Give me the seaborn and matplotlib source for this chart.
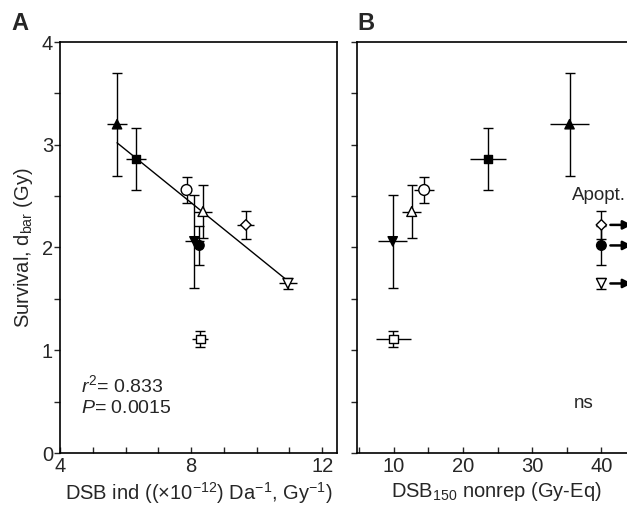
import numpy as np
import pandas as pd
import seaborn as sns
import matplotlib.pyplot as plt
from matplotlib.ticker import MultipleLocator

# one entry per cell line (named after its marker)
cells = ['tri_up_f', 'sq_f', 'circ_o', 'tri_up_o', 'tri_dn_f', 'circ_f', 'diam_o', 'tri_dn_o', 'sq_o']
markers = {'tri_up_f': '^', 'sq_f': 's', 'circ_o': 'o', 'tri_up_o': '^', 'tri_dn_f': 'v',
           'circ_f': 'o', 'diam_o': 'D', 'tri_dn_o': 'v', 'sq_o': 's'}
faces = {'tri_up_f': 'black', 'sq_f': 'black', 'circ_o': 'white', 'tri_up_o': 'white', 'tri_dn_f': 'black',
         'circ_f': 'black', 'diam_o': 'white', 'tri_dn_o': 'white', 'sq_o': 'white'}
msize = {'tri_up_f': 45, 'sq_f': 38, 'circ_o': 60, 'tri_up_o': 50, 'tri_dn_f': 45,
         'circ_f': 48, 'diam_o': 28, 'tri_dn_o': 50, 'sq_o': 40}

d_bar = [3.20, 2.86, 2.56, 2.35, 2.06, 2.02, 2.22, 1.65, 1.11]
d_err = [0.50, 0.30, 0.13, 0.26, 0.45, 0.19, 0.14, 0.05, 0.08]
dsb_ind = [5.74, 6.32, 7.86, 8.36, 8.10, 8.25, 9.67, 10.95, 8.28]
dsb_ind_err = [0.31, 0.31, 0.13, 0.28, 0.30, 0.10, 0.26, 0.27, 0.25]
dsb_nonrep = [35.4, 23.6, 14.4, 12.6, 9.86, 40.0, 40.0, 40.0, 9.95]
dsb_nonrep_err = [2.84, 2.6, 1.44, 1.37, 2.1, 0.0, 0.0, 0.0, 2.5]
apoptotic = [False, False, False, False, False, True, True, True, False]

# regression in panel A
fit_slope = -0.258
fit_intercept = 4.50

df = pd.DataFrame({'cell': cells, 'd_bar': d_bar, 'd_err': d_err,
                   'dsb_ind': dsb_ind, 'dsb_ind_err': dsb_ind_err,
                   'dsb_nonrep': dsb_nonrep, 'dsb_nonrep_err': dsb_nonrep_err,
                   'apoptotic': apoptotic})

sns.set_theme(style='ticks')
plt.rcParams['font.family'] = ['Liberation Sans', 'DejaVu Sans']
plt.rcParams['mathtext.fontset'] = 'custom'
plt.rcParams['mathtext.rm'] = 'Liberation Sans'
plt.rcParams['mathtext.it'] = 'Liberation Sans:italic'
plt.rcParams['mathtext.bf'] = 'Liberation Sans:bold'

fig = plt.figure(figsize=(6.27, 5.11), dpi=100)
axA = fig.add_axes([60 / 627, 1 - 453 / 511, (337 - 60) / 627, (453 - 42) / 511])
axB = fig.add_axes([357 / 627, 1 - 453 / 511, (636 - 357) / 627, (453 - 42) / 511])


def draw_points(ax, xcol, xerrcol):
    ax.errorbar(df[xcol], df['d_bar'], yerr=df['d_err'], fmt='none', ecolor='black',
                elinewidth=1, capsize=3.5, capthick=1, zorder=2)
    ax.errorbar(df[xcol], df['d_bar'], xerr=df[xerrcol], fmt='none', ecolor='black',
                elinewidth=1, capsize=0, zorder=2)
    sns.scatterplot(data=df, x=xcol, y='d_bar', hue='cell', style='cell', size='cell',
                    palette=faces, markers=markers, sizes=msize, edgecolor='black',
                    linewidth=1, legend=False, ax=ax, zorder=3)


# panel A
draw_points(axA, 'dsb_ind', 'dsb_ind_err')
xs = np.array([df['dsb_ind'].min(), df['dsb_ind'].max()])
sns.lineplot(x=xs, y=fit_slope * xs + fit_intercept, ax=axA, color='black', linewidth=1, zorder=1)
axA.text(4.65, 0.66, r'$r^2$= 0.833', fontsize=14, va='center')
axA.text(4.65, 0.43, r'$P$= 0.0015', fontsize=14, va='center')
axA.set_xlim(4, 12.45)
axA.set_ylim(0, 4)
axA.xaxis.set_major_locator(MultipleLocator(4))
axA.xaxis.set_minor_locator(MultipleLocator(1))
axA.yaxis.set_major_locator(MultipleLocator(1))
axA.yaxis.set_minor_locator(MultipleLocator(0.5))
axA.tick_params(axis='x', which='both', direction='in', length=4, width=1, labelsize=14.5, pad=3)
axA.tick_params(axis='y', which='both', direction='out', length=4, width=1, labelsize=14.5, pad=1)
axA.set_xlabel('DSB ind ((×10$^{-12}$) Da$^{-1}$, Gy$^{-1}$)', fontsize=14.5, labelpad=3)
axA.set_ylabel(r'Survival, d$_{\mathrm{bar}}$ (Gy)', fontsize=14.5, labelpad=5)

# panel B
draw_points(axB, 'dsb_nonrep', 'dsb_nonrep_err')
for _, row in df[df['apoptotic']].iterrows():
    axB.annotate('', xy=(row['dsb_nonrep'] + 4.8, row['d_bar']),
                 xytext=(row['dsb_nonrep'] + 0.9, row['d_bar']),
                 arrowprops=dict(arrowstyle='-|>', color='black', lw=1.8, mutation_scale=13),
                 annotation_clip=False)
axB.text(35.8, 2.51, 'Apopt.', fontsize=13.5, va='center')
axB.text(36.0, 0.48, 'ns', fontsize=13.5, va='center')
axB.set_xlim(4.7, 45)
axB.set_ylim(0, 4)
axB.xaxis.set_major_locator(MultipleLocator(10))
axB.xaxis.set_minor_locator(MultipleLocator(5))
axB.yaxis.set_major_locator(MultipleLocator(0.5))
axB.tick_params(axis='x', which='both', direction='in', length=4, width=1, labelsize=14.5, pad=3)
axB.tick_params(axis='y', which='both', direction='out', length=4, width=1, labelleft=False)
axB.set_xlabel('DSB$_{150}$ nonrep (Gy-Eq)', fontsize=14.5, labelpad=3)
axB.set_ylabel('')

for ax in (axA, axB):
    for sp in ax.spines.values():
        sp.set_linewidth(1.2)
        sp.set_color('black')

fig.text(11 / 627, 1 - 24 / 511, 'A', fontsize=17, fontweight='bold', va='center')
fig.text(357 / 627, 1 - 24 / 511, 'B', fontsize=17, fontweight='bold', va='center')

fig.savefig('out.png', dpi=100)
